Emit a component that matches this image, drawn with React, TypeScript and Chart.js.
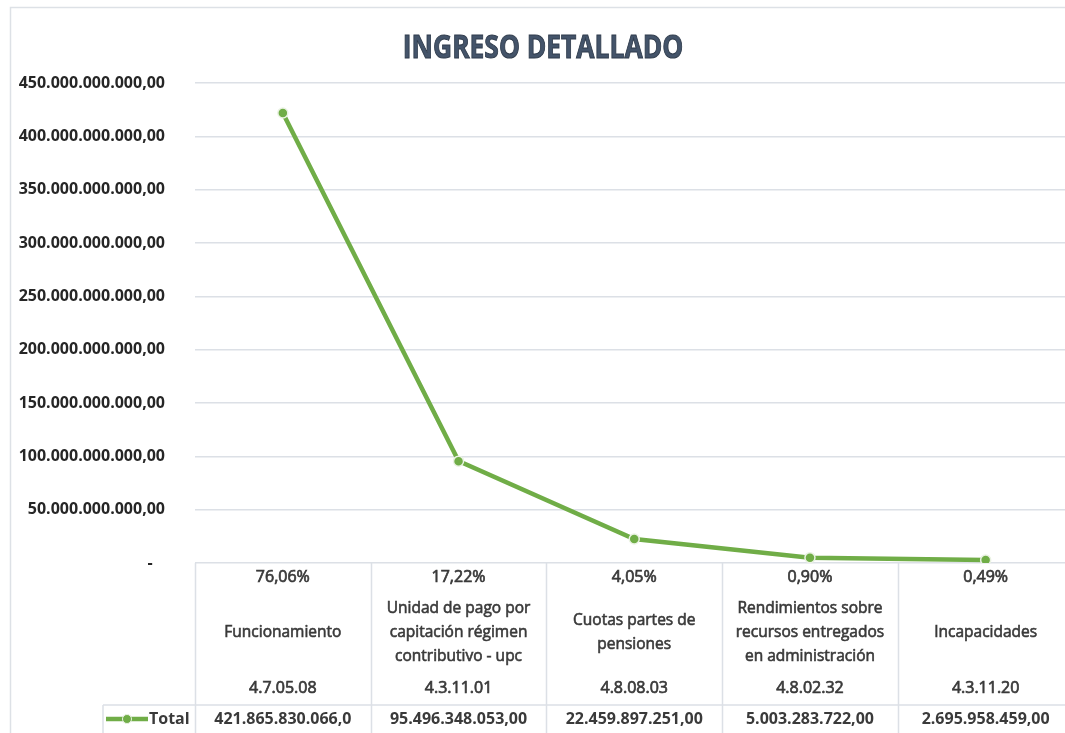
import React, { useEffect, useRef } from 'react';
import { Chart, registerables } from 'chart.js';

Chart.register(...registerables);

const TITLE = 'INGRESO DETALLADO';
const SERIES_NAME = 'Total';
const codes = ['4.7.05.08', '4.3.11.01', '4.8.08.03', '4.8.02.32', '4.3.11.20'];
const percents = ['76,06%', '17,22%', '4,05%', '0,90%', '0,49%'];
const names: string[][] = [
  ['Funcionamiento'],
  ['Unidad de pago por', 'capitación régimen', 'contributivo - upc'],
  ['Cuotas partes de', 'pensiones'],
  ['Rendimientos sobre', 'recursos entregados', 'en administración'],
  ['Incapacidades'],
];
const totals = [421865830066, 95496348053, 22459897251, 5003283722, 2695958459];
const totalLabels = ['421.865.830.066,0', '95.496.348.053,00', '22.459.897.251,00', '5.003.283.722,00', '2.695.958.459,00'];
const yMax = 450e9;
const yStep = 50e9;

const GREEN = '#70AD47';
const GRID = '#DCE0E6';
const TEXT = '#3A3A3A';
const FONT = '"Open Sans", "Noto Sans", sans-serif';

function fmt(v: number): string {
  if (v === 0) return '-   ';
  const intPart = Math.round(v).toString().replace(/\B(?=(\d{3})+(?!\d))/g, '.');
  return intPart + ',00';
}

function heavyText(ctx: CanvasRenderingContext2D, s: string, x: number, y: number, sw: number) {
  ctx.fillText(s, x, y);
  if (sw > 0) {
    ctx.lineWidth = sw;
    ctx.strokeText(s, x, y);
  }
}

const framePlugin = {
  id: 'frame',
  beforeDraw(chart: any) {
    const ctx = chart.ctx;
    ctx.save();
    ctx.fillStyle = '#ffffff';
    ctx.fillRect(0, 0, chart.width, chart.height);
    ctx.strokeStyle = '#DDE1E6';
    ctx.lineWidth = 1.5;
    ctx.strokeRect(10.5, 7.5, chart.width + 20, chart.height + 20);
    // title
    ctx.translate(543, 49);
    ctx.scale(0.8, 1);
    ctx.font = `bold 33px ${FONT}`;
    ctx.textAlign = 'center';
    ctx.textBaseline = 'middle';
    ctx.fillStyle = '#44546A';
    ctx.strokeStyle = '#2F3B4B';
    ctx.lineWidth = 1;
    ctx.fillText(TITLE, 0, 0);
    ctx.strokeText(TITLE, 0, 0);
    ctx.restore();
  },
};

const tablePlugin = {
  id: 'table',
  afterDraw(chart: any) {
    const ctx = chart.ctx;
    const xs = chart.scales.x;
    const area = chart.chartArea;
    const n = codes.length;
    const w = (area.right - area.left) / n;
    const top = area.bottom;
    const rowY = top + 142;
    const bottom = chart.height + 5;
    ctx.save();
    ctx.strokeStyle = GRID;
    ctx.lineWidth = 1.5;
    ctx.beginPath();
    ctx.moveTo(103, rowY);
    ctx.lineTo(chart.width, rowY);
    ctx.moveTo(103, rowY);
    ctx.lineTo(103, bottom);
    for (let i = 0; i <= n; i++) {
      const x = Math.round(area.left + i * w) + 0.5;
      ctx.moveTo(x, top);
      ctx.lineTo(x, bottom);
    }
    ctx.stroke();

    ctx.fillStyle = TEXT;
    ctx.strokeStyle = TEXT;
    ctx.textAlign = 'center';
    ctx.textBaseline = 'middle';
    for (let i = 0; i < n; i++) {
      const cx = xs.getPixelForValue(i);
      ctx.font = `16px ${FONT}`;
      heavyText(ctx, percents[i], cx, top + 14, 0.7);
      ctx.font = `15.5px ${FONT}`;
      const lines = names[i];
      const lh = 24;
      const mid = top + 70;
      lines.forEach((ln, j) => {
        heavyText(ctx, ln, cx, mid + (j - (lines.length - 1) / 2) * lh, 0.6);
      });
      ctx.font = `16px ${FONT}`;
      heavyText(ctx, codes[i], cx, top + 125, 0.7);
      ctx.font = `bold 16px ${FONT}`;
      heavyText(ctx, totalLabels[i], cx, rowY + 14, 0);
    }

    // legend key
    const ly = rowY + 14;
    ctx.strokeStyle = GREEN;
    ctx.lineWidth = 4.5;
    ctx.beginPath();
    ctx.moveTo(106, ly);
    ctx.lineTo(148, ly);
    ctx.stroke();
    ctx.fillStyle = GREEN;
    ctx.beginPath();
    ctx.arc(127, ly, 4.5, 0, Math.PI * 2);
    ctx.fill();
    ctx.strokeStyle = '#EAF2E3';
    ctx.lineWidth = 1;
    ctx.stroke();
    ctx.fillStyle = TEXT;
    ctx.textAlign = 'left';
    ctx.font = `bold 16px ${FONT}`;
    ctx.fillText(SERIES_NAME, 149, ly);
    ctx.restore();
  },
};

export default function App() {
  const ref = useRef<HTMLCanvasElement>(null);
  useEffect(() => {
    const chart = new Chart(ref.current!, {
      type: 'line',
      data: {
        labels: codes,
        datasets: [
          {
            label: SERIES_NAME,
            data: totals,
            borderColor: GREEN,
            backgroundColor: GREEN,
            borderWidth: 4.5,
            pointRadius: 5,
            pointBackgroundColor: GREEN,
            pointBorderColor: '#EAF2E3',
            pointBorderWidth: 1.5,
            tension: 0,
          },
        ],
      },
      options: {
        responsive: false,
        animation: false,
        devicePixelRatio: 1,
        layout: { padding: { left: 0, right: 5, top: 83, bottom: 170 } },
        plugins: {
          legend: { display: false },
          tooltip: { enabled: false },
          title: { display: false },
        },
        scales: {
          x: { display: false, offset: true },
          y: {
            min: 0,
            max: yMax,
            ticks: {
              stepSize: yStep,
              padding: 30,
              color: '#262626',
              font: { family: FONT, size: 16, weight: 'bold' },
              callback: (v: any) => fmt(Number(v)),
            },
            grid: { color: GRID, lineWidth: 1.5, drawTicks: false },
            border: { display: false },
            afterFit: (s: any) => {
              s.width = 195;
            },
          },
        },
      } as any,
      plugins: [framePlugin, tablePlugin],
    });
    return () => chart.destroy();
  }, []);
  return (
    <div style={{ position: 'fixed', left: 0, top: 0, width: 1065, height: 733, overflow: 'hidden', background: '#fff' }}>
      <canvas ref={ref} width={1080} height={733} style={{ display: 'block', width: 1080, height: 733 }} />
    </div>
  );
}
